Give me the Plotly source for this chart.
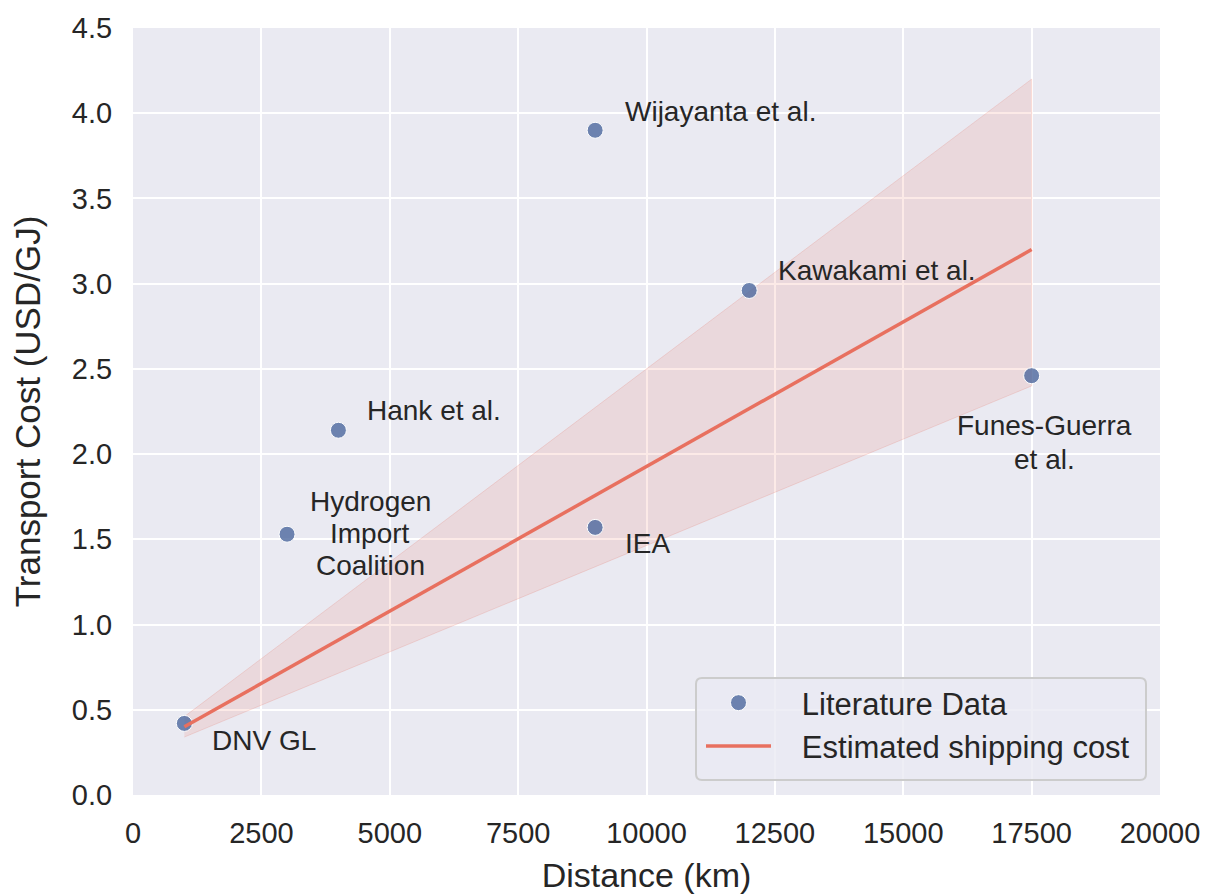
import plotly.graph_objects as go

# Literature data
source_lines = [["DNV GL"], ["Hydrogen", "Import", "Coalition"], ["Hank et al."], ["IEA"],
                ["Wijayanta et al."], ["Kawakami et al."], ["Funes-Guerra", "et al."]]
distance_km = [1000, 3000, 4000, 9000, 9000, 12000, 17500]
cost_usd_gj = [0.42, 1.53, 2.14, 1.57, 3.90, 2.96, 2.46]

# Estimated shipping cost line and band
est_distance = [1000, 17500]
est_cost = [0.40, 3.20]
est_upper = [0.46, 4.20]
est_lower = [0.34, 2.40]

x_ticks = [0, 2500, 5000, 7500, 10000, 12500, 15000, 17500, 20000]
y_ticks = [0.0, 0.5, 1.0, 1.5, 2.0, 2.5, 3.0, 3.5, 4.0, 4.5]

# label offsets (pixels, +y is up) and anchors
label_dx = [26, 83, 27, 28, 28, 27, 13]
label_dy = [-17, 1, 20, -16, 19, 20, -67]
label_gap = [0, 32, 0, 0, 0, 0, 34]
label_xanchor = ["left", "center", "left", "left", "left", "left", "center"]

FONT = "Liberation Sans, Arial, sans-serif"
TXT = "#262626"
PAD = "\u00a0\u00a0\u00a0"

W, H = 1207, 894
ML, MR, MT, MB = 133, 47, 28, 99
PW, PH = W - ML - MR, H - MT - MB

fig = go.Figure()

fig.add_trace(go.Scatter(
    x=est_distance + est_distance[::-1],
    y=est_upper + est_lower[::-1],
    fill="toself", fillcolor="rgba(232,112,95,0.15)",
    line=dict(color="rgba(232,112,95,0.2)", width=1),
    hoverinfo="skip", showlegend=False, mode="lines"))

fig.add_trace(go.Scatter(
    x=distance_km, y=cost_usd_gj, mode="markers", name=PAD + "Literature Data",
    marker=dict(size=16, color="rgba(76,104,158,0.8)",
                line=dict(color="white", width=1))))

fig.add_trace(go.Scatter(
    x=est_distance, y=est_cost, mode="lines", name=PAD + "Estimated shipping cost",
    line=dict(color="#E8705F", width=3.5)))

for lines, x, y, dx, dy, gap, xa in zip(source_lines, distance_km, cost_usd_gj,
                                        label_dx, label_dy, label_gap, label_xanchor):
    n = len(lines)
    for i, ln in enumerate(lines):
        shift = dy + ((n - 1) / 2 - i) * gap
        fig.add_annotation(x=x, y=y, text=ln, showarrow=False, xshift=dx, yshift=shift,
                           xanchor=xa, yanchor="middle",
                           font=dict(size=28, color=TXT, family=FONT))

# legend frame (rounded box) in paper coordinates
bx0, bx1 = (696 - ML) / PW, (1146 - ML) / PW
by0, by1 = (MT + PH - 780) / PH, (MT + PH - 678) / PH
rx, ry = 6 / PW, 6 / PH
path = (f"M {bx0+rx},{by0} L {bx1-rx},{by0} Q {bx1},{by0} {bx1},{by0+ry} "
        f"L {bx1},{by1-ry} Q {bx1},{by1} {bx1-rx},{by1} L {bx0+rx},{by1} "
        f"Q {bx0},{by1} {bx0},{by1-ry} L {bx0},{by0+ry} Q {bx0},{by0} {bx0+rx},{by0} Z")
fig.add_shape(type="path", path=path, xref="paper", yref="paper", layer="above",
              fillcolor="rgba(234,234,242,0.8)", line=dict(color="#CCCCCC", width=2))

fig.update_layout(
    width=W, height=H,
    margin=dict(l=ML, r=MR, t=MT, b=MB),
    paper_bgcolor="white", plot_bgcolor="#EAEAF2",
    font=dict(family=FONT, color=TXT, size=29),
    legend=dict(x=(701 - ML) / PW, y=(MT + PH - 773) / PH, xanchor="left", yanchor="bottom",
                bgcolor="rgba(0,0,0,0)", borderwidth=0,
                font=dict(size=31, color=TXT, family=FONT),
                itemwidth=65),
    xaxis=dict(range=[0, 20000], tickvals=x_ticks, ticktext=[str(v) for v in x_ticks],
               showgrid=True, gridcolor="white", gridwidth=2, zeroline=False,
               showline=False, ticks="outside", ticklen=12, tickcolor="rgba(0,0,0,0)",
               tickfont=dict(size=29), automargin=False,
               title=dict(text="Distance (km)", font=dict(size=34), standoff=15)),
    yaxis=dict(range=[0, 4.5], tickvals=y_ticks, ticktext=[f"{v:.1f}" for v in y_ticks],
               showgrid=True, gridcolor="white", gridwidth=2, zeroline=False,
               showline=False, ticks="outside", ticklen=14, tickcolor="rgba(0,0,0,0)",
               tickfont=dict(size=29), automargin=False,
               title=dict(text="Transport Cost (USD/GJ)", font=dict(size=35), standoff=20)),
)

fig.write_html("out.html")
